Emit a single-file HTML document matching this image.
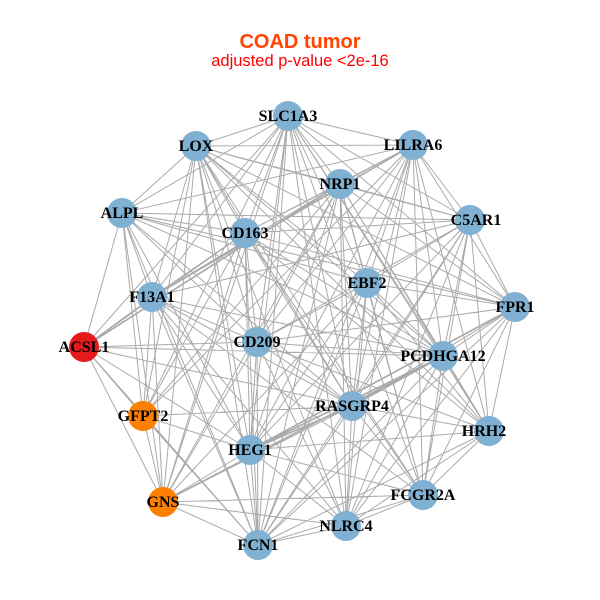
<!DOCTYPE html>
<html>
<head>
<meta charset="utf-8">
<style>
html,body{margin:0;padding:0;background:#fff;}
svg{display:block;}
.lbl{font-family:"Liberation Serif",serif;font-weight:bold;font-size:16px;fill:#000;text-anchor:middle;}
</style>
</head>
<body>
<svg width="600" height="600" viewBox="0 0 600 600" xmlns="http://www.w3.org/2000/svg">
<rect width="600" height="600" fill="#fff"/>
<text x="300" y="48" text-anchor="middle" font-family="Liberation Sans, sans-serif" font-weight="bold" font-size="20" fill="#ff4500">COAD tumor</text>
<text x="300" y="66" text-anchor="middle" font-family="Liberation Sans, sans-serif" font-size="16.5" fill="#ff0000">adjusted p-value &lt;2e-16</text>
<g stroke="#aaaaaa" stroke-width="1" fill="none">
<path d="
M288 116L196 146 M288 116L413 145 M288 116L340 184 M288 116L122 213 M288 116L470 220 M288 116L245 233 M288 116L367 283 M288 116L152 297 M288 116L515 307 M288 116L84 347 M288 116L257 342 M288 116L443 356 M288 116L143 416 M288 116L352 406 M288 116L250 450 M288 116L423 495 M288 116L163 502 M288 116L346 526 M288 116L258 545
M196 146L413 145 M196 146L340 184 M196 146L122 213 M196 146L470 220 M196 146L245 233 M196 146L367 283 M196 146L152 297 M196 146L257 342 M196 146L443 356 M196 146L143 416 M196 146L352 406 M196 146L250 450 M196 146L423 495 M196 146L163 502 M196 146L346 526 M196 146L258 545
M413 145L340 184 M413 145L122 213 M413 145L470 220 M413 145L245 233 M413 145L367 283 M413 145L152 297 M413 145L515 307 M413 145L257 342 M413 145L443 356 M413 145L352 406 M413 145L489 431 M413 145L250 450 M413 145L423 495 M413 145L346 526 M413 145L258 545
M340 184L470 220 M340 184L245 233 M340 184L367 283 M340 184L152 297 M340 184L515 307 M340 184L84 347 M340 184L257 342 M340 184L443 356 M340 184L143 416 M340 184L352 406 M340 184L250 450 M340 184L423 495 M340 184L163 502 M340 184L346 526
M122 213L470 220 M122 213L245 233 M122 213L367 283 M122 213L152 297 M122 213L84 347 M122 213L257 342 M122 213L443 356 M122 213L143 416 M122 213L352 406 M122 213L250 450 M122 213L163 502 M122 213L258 545
M470 220L245 233 M470 220L367 283 M470 220L152 297 M470 220L515 307 M470 220L443 356 M470 220L352 406 M470 220L489 431 M470 220L250 450 M470 220L423 495 M470 220L346 526 M470 220L258 545
M245 233L152 297 M245 233L515 307 M245 233L84 347 M245 233L257 342 M245 233L143 416 M245 233L352 406 M245 233L489 431 M245 233L250 450 M245 233L423 495 M245 233L163 502 M245 233L258 545
M367 283L515 307 M367 283L257 342 M367 283L443 356 M367 283L352 406 M367 283L489 431 M367 283L250 450 M367 283L423 495 M367 283L163 502 M367 283L346 526
M152 297L84 347 M152 297L257 342 M152 297L443 356 M152 297L143 416 M152 297L352 406 M152 297L250 450 M152 297L423 495 M152 297L163 502 M152 297L346 526 M152 297L258 545
M515 307L257 342 M515 307L443 356 M515 307L352 406 M515 307L489 431 M515 307L250 450 M515 307L423 495 M515 307L346 526
M84 347L257 342 M84 347L443 356 M84 347L143 416 M84 347L352 406 M84 347L250 450 M84 347L163 502 M84 347L258 545
M257 342L443 356 M257 342L489 431 M257 342L250 450 M257 342L163 502 M257 342L346 526 M257 342L258 545
M443 356L352 406 M443 356L489 431 M443 356L250 450 M443 356L423 495 M443 356L163 502 M443 356L346 526
M143 416L352 406 M143 416L250 450 M143 416L163 502 M143 416L258 545
M352 406L489 431 M352 406L250 450 M352 406L423 495 M352 406L163 502 M352 406L346 526
M489 431L250 450 M489 431L423 495 M489 431L346 526
M250 450L423 495 M250 450L163 502 M250 450L346 526 M250 450L258 545
M423 495L163 502 M423 495L346 526 M423 495L258 545
M163 502L346 526 M163 502L258 545
M346 526L258 545
M196 146L515 307 M413 145L143 416 M340 184L258 545 M122 213L515 307 M470 220L257 342 M245 233L443 356 M367 283L258 545 M515 307L258 545 M257 342L352 406 M443 356L258 545 M352 406L258 545 M489 431L258 545 M288 116L489 431 M340 184L489 431 M196 146L489 431
"/>
</g>
<g stroke="#aaaaaa" stroke-width="1.7" fill="none">
<path d="M413 145L152 297 M340 184L84 347 M443 356L163 502 M443 356L250 450 M443 356L352 406 M352 406L250 450 M515 307L250 450"/>
</g>
<g>
<circle cx="288" cy="116" r="15" fill="#80b1d3"/>
<circle cx="196" cy="146" r="15" fill="#80b1d3"/>
<circle cx="413" cy="145" r="15" fill="#80b1d3"/>
<circle cx="340" cy="184" r="15" fill="#80b1d3"/>
<circle cx="122" cy="213" r="15" fill="#80b1d3"/>
<circle cx="470" cy="220" r="15" fill="#80b1d3"/>
<circle cx="245" cy="233" r="15" fill="#80b1d3"/>
<circle cx="367" cy="283" r="15" fill="#80b1d3"/>
<circle cx="152" cy="297" r="15" fill="#80b1d3"/>
<circle cx="515" cy="307" r="15" fill="#80b1d3"/>
<circle cx="84" cy="347" r="15" fill="#e41a1c"/>
<circle cx="257" cy="342" r="15" fill="#80b1d3"/>
<circle cx="443" cy="356" r="15" fill="#80b1d3"/>
<circle cx="143" cy="416" r="15" fill="#ff7f00"/>
<circle cx="352" cy="406" r="15" fill="#80b1d3"/>
<circle cx="489" cy="431" r="15" fill="#80b1d3"/>
<circle cx="250" cy="450" r="15" fill="#80b1d3"/>
<circle cx="423" cy="495" r="15" fill="#80b1d3"/>
<circle cx="163" cy="502" r="15" fill="#ff7f00"/>
<circle cx="346" cy="526" r="15" fill="#80b1d3"/>
<circle cx="258" cy="545" r="15" fill="#80b1d3"/>
</g>
<g>
<text class="lbl" x="288" y="121">SLC1A3</text>
<text class="lbl" x="196" y="151">LOX</text>
<text class="lbl" x="413" y="150">LILRA6</text>
<text class="lbl" x="340" y="189">NRP1</text>
<text class="lbl" x="122" y="218">ALPL</text>
<text class="lbl" x="476" y="225">C5AR1</text>
<text class="lbl" x="245" y="238">CD163</text>
<text class="lbl" x="367" y="288">EBF2</text>
<text class="lbl" x="152" y="302">F13A1</text>
<text class="lbl" x="515" y="312">FPR1</text>
<text class="lbl" x="84" y="352">ACSL1</text>
<text class="lbl" x="257" y="347">CD209</text>
<text class="lbl" x="443" y="361">PCDHGA12</text>
<text class="lbl" x="143" y="421">GFPT2</text>
<text class="lbl" x="352" y="411">RASGRP4</text>
<text class="lbl" x="484" y="436">HRH2</text>
<text class="lbl" x="250" y="455">HEG1</text>
<text class="lbl" x="423" y="500">FCGR2A</text>
<text class="lbl" x="163" y="507">GNS</text>
<text class="lbl" x="346" y="531">NLRC4</text>
<text class="lbl" x="258" y="550">FCN1</text>
</g>
</svg>
</body>
</html>
